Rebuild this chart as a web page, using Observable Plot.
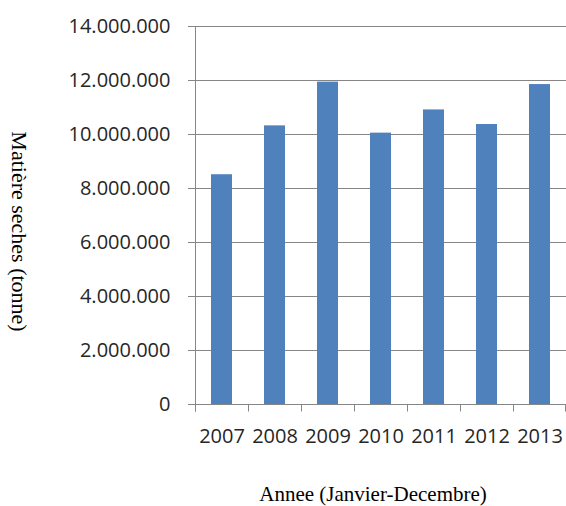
<!DOCTYPE html>
<html><head><meta charset="utf-8">
<script src="https://cdn.jsdelivr.net/npm/d3@7"></script>
<script src="https://cdn.jsdelivr.net/npm/@observablehq/plot@0.6"></script>
<style>body{margin:0;background:#fff}</style>
</head><body><div id="chart"></div>
<script>
const years = ["2007", "2008", "2009", "2010", "2011", "2012", "2013"];
const values = [8510000, 10320000, 11940000, 10050000, 10910000, 10370000, 11850000];
const yTicks = [0, 2000000, 4000000, 6000000, 8000000, 10000000, 12000000, 14000000];
const xTitle = "Annee (Janvier-Decembre)";
const yTitle = "Matière seches (tonne)";

const data = years.map((y, i) => ({year: y, value: values[i]}));
const fmt = d3.formatLocale({decimal: ",", thousands: ".", grouping: [3], currency: ["", ""]}).format(",d");
const pad = 0.61;
const axisColor = "#868686";

function boundaryTicks(index, scales) {
  const x = scales.x, y = scales.y;
  const step = x(years[1]) - x(years[0]);
  const bw = step * (1 - pad);
  const g = d3.create("svg:g").attr("stroke", axisColor).attr("stroke-width", 1);
  const y0 = Math.round(y(0)) + 0.5, yTop = Math.round(y(14000000)) + 0.5;
  const b = years.map(d => x(d) + bw / 2 - step / 2);
  b.push(b[b.length - 1] + step);
  const bx = b.map(v => Math.min(Math.round(v), 565) + 0.5);
  g.append("line").attr("x1", bx[0]).attr("x2", bx[0]).attr("y1", yTop).attr("y2", y0 + 7);
  g.append("line").attr("x1", bx[0]).attr("x2", bx[bx.length - 1]).attr("y1", y0).attr("y2", y0);
  for (const v of bx) {
    g.append("line").attr("x1", v).attr("x2", v).attr("y1", y0).attr("y2", y0 + 7);
  }
  return g.node();
}

const chart = Plot.plot({
  width: 566,
  height: 506,
  marginTop: 26,
  marginBottom: 102,
  marginLeft: 195,
  marginRight: 0,
  style: {fontFamily: "'Open Sans', sans-serif", fontSize: "20px", color: "#262626", background: "#fff"},
  x: {domain: years, paddingInner: pad, paddingOuter: pad / 2, label: null},
  y: {domain: [0, 14000000], label: null},
  marks: [
    Plot.gridY(yTicks, {stroke: axisColor, strokeOpacity: 1}),
    Plot.axisY(yTicks, {tickFormat: fmt, tickSize: 7, tickPadding: 18, stroke: axisColor, label: null, fontSize: 20}),
    Plot.axisX({tickSize: 0, tickPadding: 24, label: null, fontSize: 20}),
    Plot.barY(data, {x: "year", y: "value", fill: "#4f81bd"}),
    boundaryTicks,
    Plot.text([yTitle], {text: d => d, frameAnchor: "left", textAnchor: "middle", lineAnchor: "middle", dx: -176, dy: 16, rotate: 90, fontFamily: "'Liberation Serif', serif", fontSize: 22, fill: "#000"}),
    Plot.text([xTitle], {text: d => d, frameAnchor: "bottom", textAnchor: "middle", lineAnchor: "middle", dx: -8, dy: 90, fontFamily: "'Liberation Serif', serif", fontSize: 21, fill: "#000"})
  ]
});
document.getElementById("chart").appendChild(chart);
</script>
</body></html>
